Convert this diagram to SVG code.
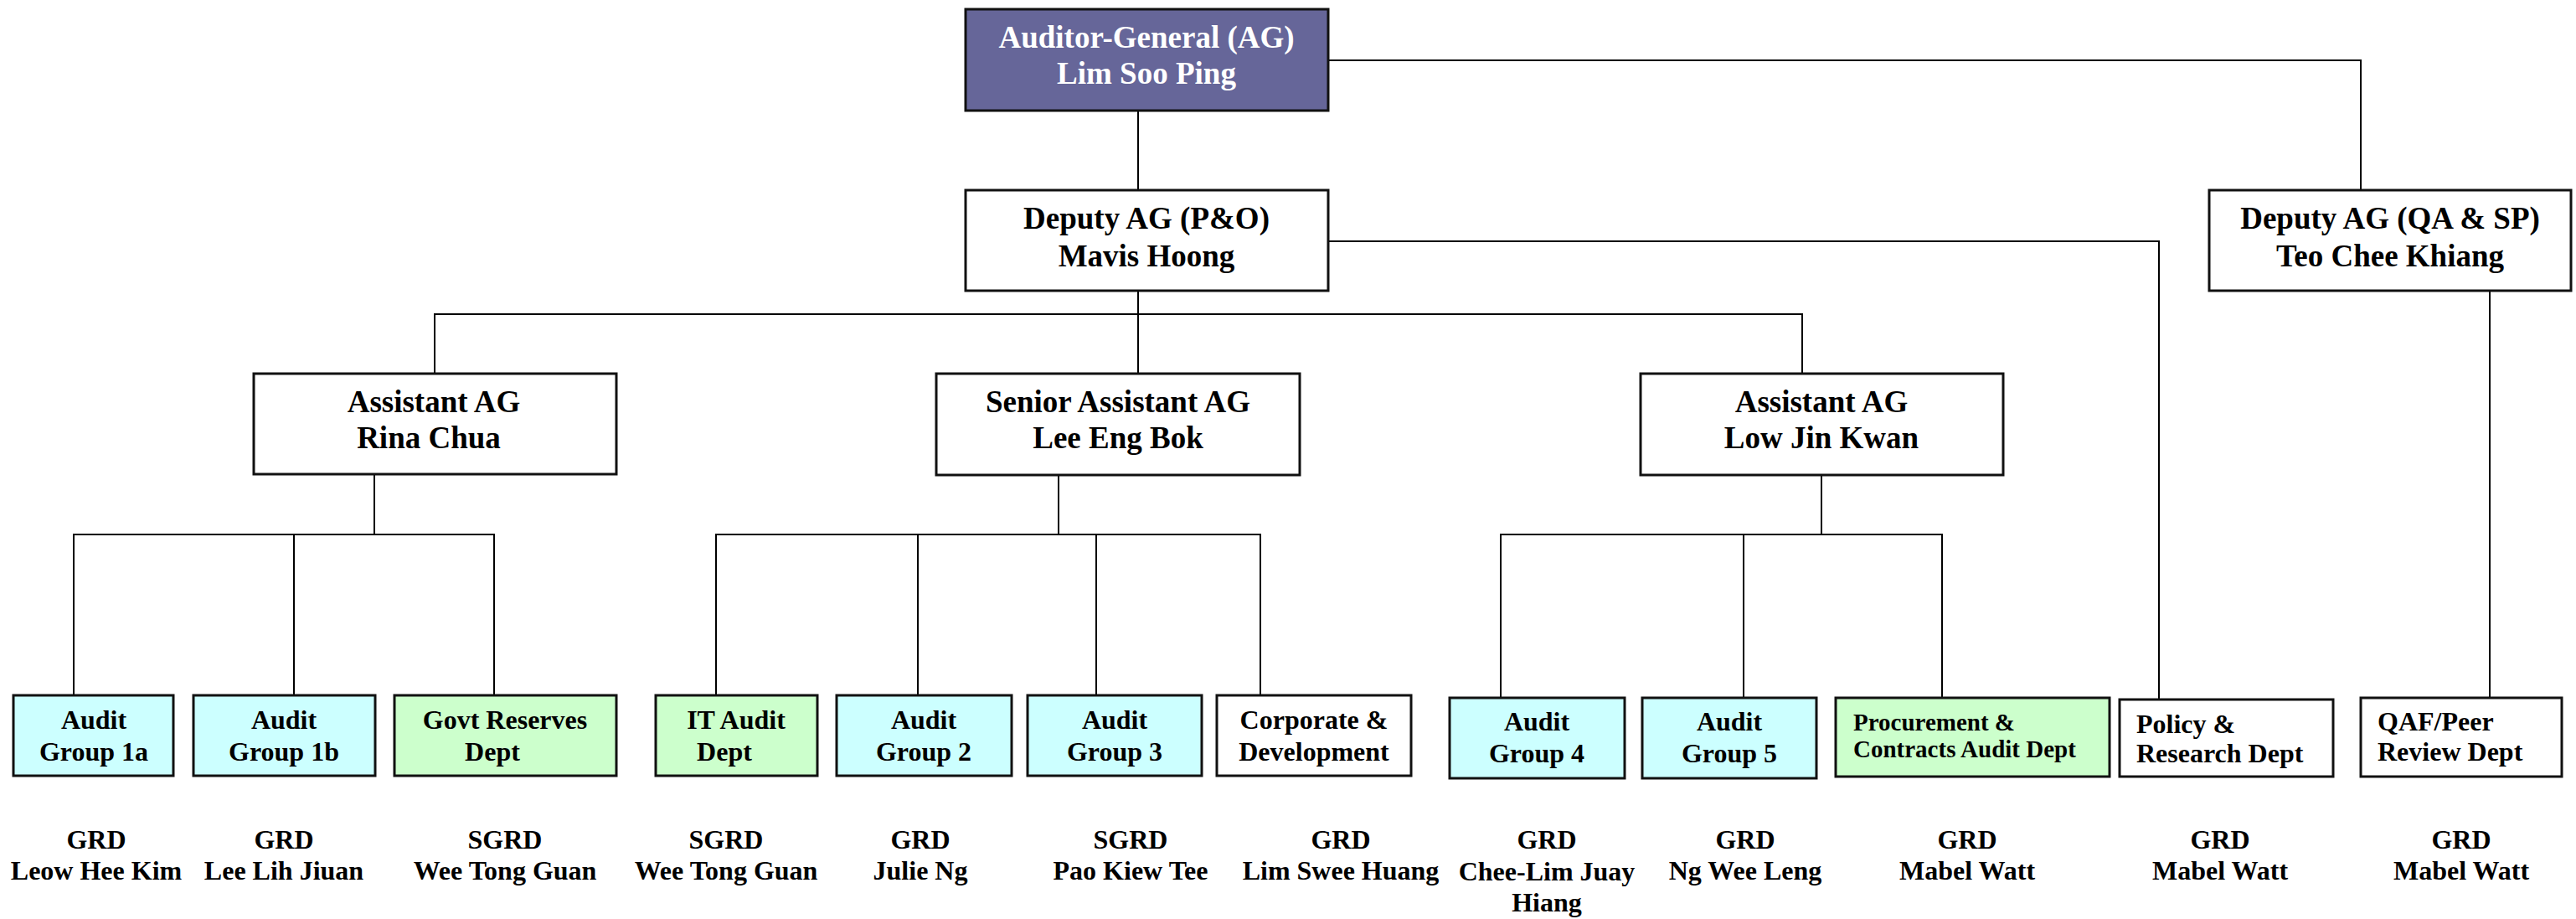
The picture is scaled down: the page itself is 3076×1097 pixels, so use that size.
<svg xmlns="http://www.w3.org/2000/svg" width="3076" height="1097" viewBox="0 0 3076 1097">
<style>
.box{stroke:#111;stroke-width:3;fill:#fff}
.ag{fill:#666699}
.cy{fill:#ccffff}
.gr{fill:#ccffcc}
.t{font-family:"Liberation Serif","Times New Roman",serif;font-weight:bold;fill:#000;text-anchor:middle}
.big{font-size:37px}
.mid{font-size:32px}
.sm{font-size:29px}
.w{fill:#fff}
.l{text-anchor:start}
.conn path{fill:none;stroke:#000;stroke-width:2}
</style>
<rect width="3076" height="1097" fill="#fff"/>
<g class="conn" id="connectors">
<path d="M1359 132V446"/>
<path d="M1586 72H2819V227"/>
<path d="M1586 288H2578V835"/>
<path d="M2973 347V833"/>
<path d="M519 446V375H2152V446"/>
<path d="M447 566V638"/>
<path d="M88 830V638H590V830"/>
<path d="M351 638V830"/>
<path d="M1264 567V638"/>
<path d="M855 830V638H1505V830"/>
<path d="M1096 638V830"/>
<path d="M1309 638V830"/>
<path d="M2175 567V638"/>
<path d="M1792 833V638H2319V833"/>
<path d="M2082 638V833"/>
</g>
<g id="ag"><rect class="box ag" x="1153" y="11" width="433" height="121"/><text class="t big w" x="1369" y="57">Auditor-General (AG)</text><text class="t big w" x="1369" y="100">Lim Soo Ping</text></g>
<g id="dag-po"><rect class="box" x="1153" y="227" width="433" height="120"/><text class="t big" x="1369" y="273">Deputy AG (P&amp;O)</text><text class="t big" x="1369" y="318">Mavis Hoong</text></g>
<g id="dag-qa"><rect class="box" x="2638" y="227" width="432" height="120"/><text class="t big" x="2854" y="273">Deputy AG (QA &amp; SP)</text><text class="t big" x="2854" y="318">Teo Chee Khiang</text></g>
<g id="aag-rina"><rect class="box" x="303" y="446" width="433" height="120"/><text class="t big" x="518" y="492">Assistant AG</text><text class="t big" x="512" y="535">Rina Chua</text></g>
<g id="saag-lee"><rect class="box" x="1118" y="446" width="434" height="121"/><text class="t big" x="1335" y="492">Senior Assistant AG</text><text class="t big" x="1335" y="535">Lee Eng Bok</text></g>
<g id="aag-low"><rect class="box" x="1959" y="446" width="433" height="121"/><text class="t big" x="2175" y="492">Assistant AG</text><text class="t big" x="2175" y="535">Low Jin Kwan</text></g>
<g id="ag1a"><rect class="box cy" x="16" y="830" width="191" height="96"/><text class="t mid" x="112" y="870">Audit</text><text class="t mid" x="112" y="908">Group 1a</text></g>
<g id="ag1b"><rect class="box cy" x="231" y="830" width="217" height="96"/><text class="t mid" x="339" y="870">Audit</text><text class="t mid" x="339" y="908">Group 1b</text></g>
<g id="grd"><rect class="box gr" x="471" y="830" width="265" height="96"/><text class="t mid" x="603" y="870">Govt Reserves</text><text class="t mid" x="588" y="908">Dept</text></g>
<g id="itad"><rect class="box gr" x="783" y="830" width="193" height="96"/><text class="t mid" x="879" y="870">IT Audit</text><text class="t mid" x="865" y="908">Dept</text></g>
<g id="ag2"><rect class="box cy" x="999" y="830" width="209" height="96"/><text class="t mid" x="1103" y="870">Audit</text><text class="t mid" x="1103" y="908">Group 2</text></g>
<g id="ag3"><rect class="box cy" x="1227" y="830" width="208" height="96"/><text class="t mid" x="1331" y="870">Audit</text><text class="t mid" x="1331" y="908">Group 3</text></g>
<g id="corp"><rect class="box" x="1453" y="830" width="232" height="96"/><text class="t mid" x="1569" y="870">Corporate &amp;</text><text class="t mid" x="1569" y="908">Development</text></g>
<g id="ag4"><rect class="box cy" x="1731" y="833" width="209" height="96"/><text class="t mid" x="1835" y="872">Audit</text><text class="t mid" x="1835" y="910">Group 4</text></g>
<g id="ag5"><rect class="box cy" x="1961" y="833" width="208" height="96"/><text class="t mid" x="2065" y="872">Audit</text><text class="t mid" x="2065" y="910">Group 5</text></g>
<g id="pcad"><rect class="box gr" x="2192" y="833" width="327" height="94"/><text class="t sm l" x="2213" y="872">Procurement &amp;</text><text class="t sm l" x="2213" y="904">Contracts Audit Dept</text></g>
<g id="prd"><rect class="box" x="2531" y="835" width="255" height="92"/><text class="t mid l" x="2551" y="875">Policy &amp;</text><text class="t mid l" x="2551" y="910">Research Dept</text></g>
<g id="qaf"><rect class="box" x="2819" y="833" width="240" height="94"/><text class="t mid l" x="2839" y="872">QAF/Peer</text><text class="t mid l" x="2839" y="908">Review Dept</text></g>
<g id="heads" class="t mid">
<text x="115" y="1013">GRD</text><text x="115" y="1050">Leow Hee Kim</text>
<text x="339" y="1013">GRD</text><text x="339" y="1050">Lee Lih Jiuan</text>
<text x="603" y="1013">SGRD</text><text x="603" y="1050">Wee Tong Guan</text>
<text x="867" y="1013">SGRD</text><text x="867" y="1050">Wee Tong Guan</text>
<text x="1099" y="1013">GRD</text><text x="1099" y="1050">Julie Ng</text>
<text x="1350" y="1013">SGRD</text><text x="1350" y="1050">Pao Kiew Tee</text>
<text x="1601" y="1013">GRD</text><text x="1601" y="1050">Lim Swee Huang</text>
<text x="1847" y="1013">GRD</text><text x="1847" y="1051">Chee-Lim Juay</text><text x="1847" y="1088">Hiang</text>
<text x="2084" y="1013">GRD</text><text x="2084" y="1050">Ng Wee Leng</text>
<text x="2349" y="1013">GRD</text><text x="2349" y="1050">Mabel Watt</text>
<text x="2651" y="1013">GRD</text><text x="2651" y="1050">Mabel Watt</text>
<text x="2939" y="1013">GRD</text><text x="2939" y="1050">Mabel Watt</text>
</g>
</svg>
